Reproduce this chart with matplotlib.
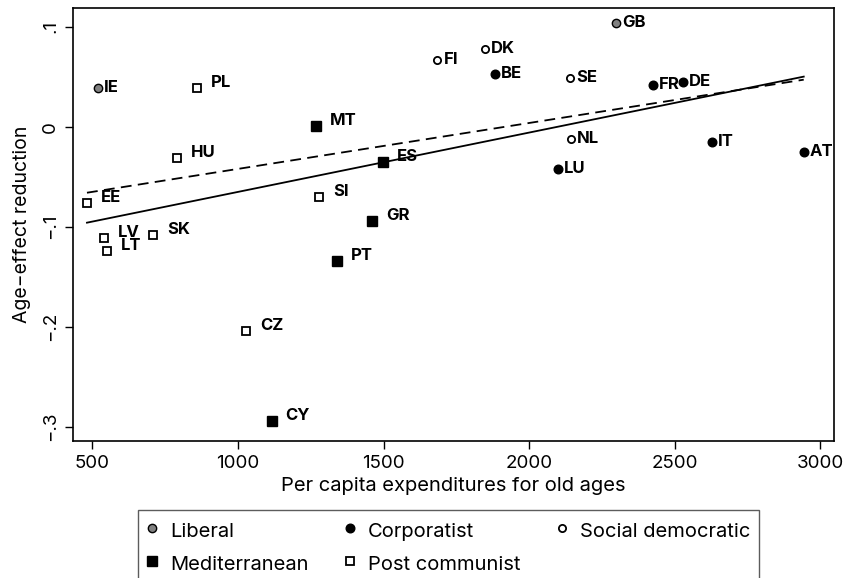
import numpy as np
import matplotlib
matplotlib.use("Agg")
import matplotlib.pyplot as plt
from matplotlib.lines import Line2D

plt.rcParams['font.family'] = ['Inter', 'Liberation Sans', 'DejaVu Sans']

# country data: spending per capita on old age vs. reduction of age effect
countries = ['IE', 'GB',
             'BE', 'FR', 'DE', 'LU', 'IT', 'AT',
             'FI', 'DK', 'SE', 'NL',
             'MT', 'ES', 'GR', 'PT', 'CY',
             'PL', 'HU', 'EE', 'LV', 'LT', 'SK', 'SI', 'CZ']
regime = ['Liberal', 'Liberal',
          'Corporatist', 'Corporatist', 'Corporatist', 'Corporatist', 'Corporatist', 'Corporatist',
          'Social democratic', 'Social democratic', 'Social democratic', 'Social democratic',
          'Mediterranean', 'Mediterranean', 'Mediterranean', 'Mediterranean', 'Mediterranean',
          'Post communist', 'Post communist', 'Post communist', 'Post communist',
          'Post communist', 'Post communist', 'Post communist', 'Post communist']
expenditure = [519, 2298,
               1883, 2426, 2529, 2099, 2629, 2944,
               1685, 1849, 2140, 2143,
               1268, 1498, 1460, 1340, 1116,
               859, 790, 481, 540, 550, 708, 1278, 1027]
reduction = [0.039, 0.104,
             0.053, 0.042, 0.045, -0.042, -0.015, -0.025,
             0.067, 0.078, 0.049, -0.012,
             0.001, -0.035, -0.094, -0.134, -0.294,
             0.039, -0.031, -0.076, -0.111, -0.124, -0.108, -0.070, -0.204]

# linear fits (intercept, slope)
fit_solid = (-0.1245, 5.93e-5)
fit_dashed = (-0.0881, 4.59e-5)

xticks = [500, 1000, 1500, 2000, 2500, 3000]
yticks = [-0.3, -0.2, -0.1, 0.0, 0.1]
ytick_labels = ['\u2212.3', '\u2212.2', '\u2212.1', '0', '.1']

styles = {
    'Liberal':           dict(marker='o', mfc='#808080', ms=6.0, mew=1.0),
    'Corporatist':       dict(marker='o', mfc='black', ms=6.2, mew=1.0),
    'Social democratic': dict(marker='o', mfc='white', ms=5.2, mew=1.3),
    'Mediterranean':     dict(marker='s', mfc='black', ms=7.4, mew=1.0),
    'Post communist':    dict(marker='s', mfc='white', ms=5.4, mew=1.3),
}
legend_order = ['Liberal', 'Mediterranean', 'Corporatist', 'Post communist', 'Social democratic']

fig = plt.figure(figsize=(8.48, 5.78), dpi=100)
ax = fig.add_axes([73 / 848, 1 - 441 / 578, (834 - 73) / 848, (441 - 8) / 578])

x = np.array(expenditure)
y = np.array(reduction)
xs = np.array([x.min(), x.max()])
ax.plot(xs, fit_solid[0] + fit_solid[1] * xs, color='black', lw=1.3, zorder=2)
ax.plot(xs, fit_dashed[0] + fit_dashed[1] * xs, color='black', lw=1.3,
        dashes=(6, 3.5), zorder=2)

for name, st in styles.items():
    idx = [i for i, r in enumerate(regime) if r == name]
    ax.plot(x[idx], y[idx], ls='none', marker=st['marker'], ms=st['ms'],
            mfc=st['mfc'], mec='black', mew=st['mew'], zorder=3)

for c, r, xi, yi in zip(countries, regime, expenditure, reduction):
    if styles[r]['marker'] == 'o':
        off = (4.5, 0)
    else:
        off = (10, 3.5)
    ax.annotate(c, (xi, yi), xytext=off, textcoords='offset points',
                ha='left', va='center', fontsize=12, fontweight='bold', zorder=4)

ax.set_xlim(433, 3048)
ax.set_ylim(-0.3143, 0.1187)
ax.set_xticks(xticks)
ax.set_yticks(yticks)
ax.set_yticklabels(ytick_labels, rotation=90, va='center')
ax.tick_params(direction='out', length=6, width=1, labelsize=13.5, pad=4)
for sp in ax.spines.values():
    sp.set_linewidth(1.2)

ax.set_xlabel('Per capita expenditures for old ages', fontsize=14.5, labelpad=4)
ax.set_ylabel('Age\u2212effect reduction', fontsize=14, labelpad=8)

handles = [Line2D([], [], ls='none', marker=styles[n]['marker'],
                  ms=styles[n]['ms'], mfc=styles[n]['mfc'], mec='black',
                  mew=styles[n]['mew'])
           for n in legend_order]
leg = fig.legend(handles, legend_order, ncol=3, loc='upper left',
                 bbox_to_anchor=(138 / 848, 1 - 510 / 578), borderaxespad=0,
                 fontsize=14.5, frameon=True, fancybox=False, edgecolor='#333333',
                 handlelength=0.5, handleheight=1.4, handletextpad=0.65,
                 columnspacing=1.8, labelspacing=0.45, borderpad=0.45)
leg.get_frame().set_linewidth(1.0)

fig.savefig('out.png', dpi=100)
